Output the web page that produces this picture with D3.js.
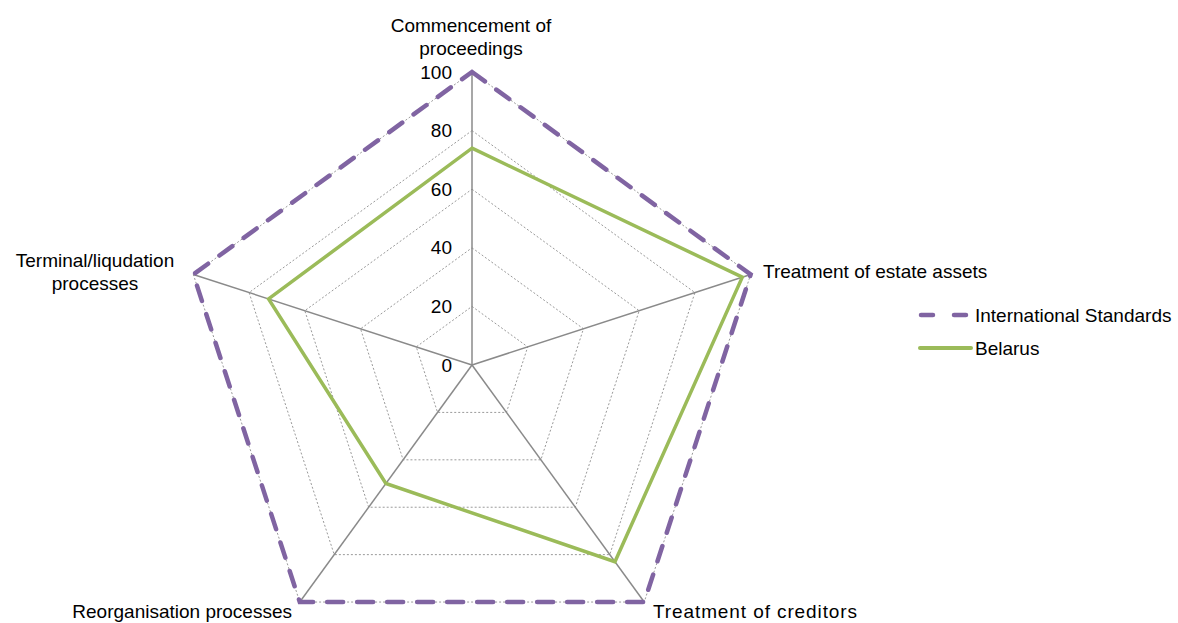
<!DOCTYPE html>
<html>
<head>
<meta charset="utf-8">
<script src="https://cdn.jsdelivr.net/npm/d3@7"></script>
<style>
  body { margin: 0; background: #fff; }
  svg { display: block; font-family: "Liberation Sans", Arial, sans-serif; }
</style>
</head>
<body>
<script>
const categories = ["Commencement of proceedings", "Treatment of estate assets", "Treatment of creditors", "Reorganisation processes", "Terminal/liqudation processes"]
const international = [100, 100, 100, 100, 100]
const belarus = [74, 97, 83, 50, 73]
const ticks = [0, 20, 40, 60, 80, 100]

const width = 1178
const height = 623
const cx = 472
const cy = 365
const radius = 293

const svg = d3.select("body").append("svg")
    .attr("width", width)
    .attr("height", height)

const r = d3.scaleLinear([0, 100], [0, radius])
const angle = i => -Math.PI / 2 + i * 2 * Math.PI / categories.length
const pt = (i, v) => [cx + r(v) * Math.cos(angle(i)), cy + r(v) * Math.sin(angle(i))]

const line = d3.line().curve(d3.curveLinearClosed)

// rings
svg.append("g").selectAll("path")
    .data(ticks.slice(1))
    .join("path")
    .attr("d", t => line(categories.map((_, i) => pt(i, t))))
    .attr("fill", "none")
    .attr("stroke", "#9a9a9a")
    .attr("stroke-width", 1)
    .attr("stroke-dasharray", "2,2")

// spokes
svg.append("g").selectAll("line")
    .data(categories)
    .join("line")
    .attr("x1", cx).attr("y1", cy)
    .attr("x2", (_, i) => pt(i, 100)[0])
    .attr("y2", (_, i) => pt(i, 100)[1])
    .attr("stroke", "#8a8a8a")
    .attr("stroke-width", 1.5)

// tick labels
svg.append("g").selectAll("text")
    .data(ticks)
    .join("text")
    .attr("x", cx - 20)
    .attr("y", t => cy - r(t))
    .attr("dy", "0.35em")
    .attr("text-anchor", "end")
    .attr("font-size", 19)
    .attr("fill", "#000")
    .text(t => t)

// series
svg.append("path")
    .attr("d", line(belarus.map((v, i) => pt(i, v))))
    .attr("fill", "none")
    .attr("stroke", "#9bbb59")
    .attr("stroke-width", 3.5)
    .attr("stroke-linejoin", "miter")

svg.append("path")
    .attr("d", line(international.map((v, i) => pt(i, v))))
    .attr("fill", "none")
    .attr("stroke", "#8064a2")
    .attr("stroke-width", 4.5)
    .attr("stroke-linecap", "round")
    .attr("stroke-dasharray", "16,14")

// category labels
const labelPos = [
    { x: cx - 1, y: 32, anchor: "middle", lines: ["Commencement of", "proceedings"] },
    { x: 763, y: 278, anchor: "start", lines: ["Treatment of estate assets"] },
    { x: 653, y: 618, anchor: "start", lines: ["Treatment of creditors"], spacing: 0.9 },
    { x: 292, y: 618, anchor: "end", lines: ["Reorganisation processes"] },
    { x: 95, y: 267, anchor: "middle", lines: ["Terminal/liqudation", "processes"] }
]
const lab = svg.append("g").attr("font-size", 19).attr("fill", "#000")
labelPos.forEach(p => {
    const t = lab.append("text").attr("text-anchor", p.anchor)
        .attr("letter-spacing", p.spacing || 0)
    p.lines.forEach((s, j) => t.append("tspan").attr("x", p.x).attr("y", p.y + j * 23).text(s))
})

// legend
const legend = svg.append("g").attr("font-size", 19)
legend.append("line")
    .attr("x1", 921).attr("x2", 970).attr("y1", 315).attr("y2", 315)
    .attr("stroke", "#8064a2").attr("stroke-width", 4.5)
    .attr("stroke-linecap", "round").attr("stroke-dasharray", "12,21")
legend.append("text").attr("x", 975).attr("y", 315).attr("dy", "0.35em").text("International Standards")
legend.append("line")
    .attr("x1", 920).attr("x2", 971).attr("y1", 348).attr("y2", 348)
    .attr("stroke", "#9bbb59").attr("stroke-width", 4)
    .attr("stroke-linecap", "round")
legend.append("text").attr("x", 975).attr("y", 348).attr("dy", "0.35em").text("Belarus")
</script>
</body>
</html>
